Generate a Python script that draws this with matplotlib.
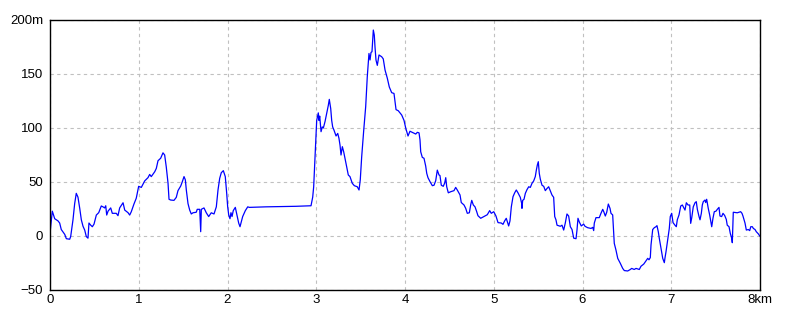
import matplotlib
matplotlib.use('Agg')
import matplotlib.pyplot as plt

# distance along the route (km) and elevation (m)
dist_km = [
    0.003, 0.026, 0.053, 0.090, 0.109, 0.127, 0.166, 0.184, 0.222, 0.233,
    0.259, 0.278, 0.296, 0.315, 0.335, 0.353, 0.372, 0.391, 0.409, 0.428,
    0.439, 0.459, 0.477, 0.496, 0.522, 0.549, 0.578, 0.597, 0.616, 0.628,
    0.639, 0.654, 0.684, 0.702, 0.747, 0.766, 0.785, 0.823, 0.842, 0.879,
    0.898, 0.916, 0.946, 0.972, 0.999, 1.029, 1.067, 1.104, 1.123, 1.141,
    1.180, 1.198, 1.217, 1.247, 1.273, 1.292, 1.310, 1.330, 1.341, 1.360,
    1.397, 1.423, 1.442, 1.473, 1.491, 1.510, 1.525, 1.536, 1.555, 1.574,
    1.592, 1.611, 1.648, 1.659, 1.687, 1.698, 1.705, 1.735, 1.761, 1.788,
    1.817, 1.848, 1.874, 1.893, 1.912, 1.930, 1.953, 1.975, 1.991, 2.002,
    2.014, 2.028, 2.039, 2.051, 2.065, 2.088, 2.107, 2.126, 2.141, 2.171,
    2.201, 2.228, 2.246, 2.434, 2.772, 2.941, 2.960, 2.971, 2.978, 2.989,
    2.997, 3.005, 3.023, 3.031, 3.039, 3.054, 3.068, 3.080, 3.099, 3.118,
    3.136, 3.147, 3.163, 3.174, 3.185, 3.200, 3.223, 3.242, 3.256, 3.268,
    3.279, 3.294, 3.309, 3.324, 3.343, 3.361, 3.380, 3.406, 3.429, 3.462,
    3.482, 3.496, 3.512, 3.535, 3.557, 3.575, 3.594, 3.606, 3.617, 3.628,
    3.643, 3.654, 3.662, 3.673, 3.688, 3.707, 3.737, 3.755, 3.775, 3.801,
    3.823, 3.850, 3.876, 3.899, 3.924, 3.963, 3.989, 4.008, 4.034, 4.056,
    4.121, 4.139, 4.158, 4.169, 4.177, 4.195, 4.214, 4.233, 4.245, 4.259,
    4.282, 4.308, 4.327, 4.346, 4.364, 4.383, 4.394, 4.409, 4.431, 4.447,
    4.459, 4.470, 4.488, 4.515, 4.552, 4.571, 4.589, 4.620, 4.634, 4.665,
    4.684, 4.702, 4.725, 4.740, 4.752, 4.770, 4.789, 4.808, 4.822, 4.853,
    4.890, 4.927, 4.954, 4.972, 5.000, 5.025, 5.048, 5.085, 5.104, 5.123,
    5.141, 5.157, 5.168, 5.183, 5.198, 5.217, 5.236, 5.254, 5.273, 5.299,
    5.315, 5.318, 5.326, 5.341, 5.356, 5.375, 5.394, 5.412, 5.431, 5.450,
    5.468, 5.480, 5.491, 5.502, 5.513, 5.525, 5.544, 5.563, 5.581, 5.600,
    5.619, 5.637, 5.656, 5.675, 5.687, 5.701, 5.713, 5.750, 5.769, 5.788,
    5.806, 5.825, 5.844, 5.863, 5.882, 5.901, 5.927, 5.938, 5.949, 5.964,
    5.986, 6.013, 6.028, 6.058, 6.096, 6.115, 6.126, 6.133, 6.152, 6.189,
    6.208, 6.228, 6.242, 6.257, 6.273, 6.291, 6.310, 6.321, 6.340, 6.358,
    6.377, 6.397, 6.426, 6.453, 6.471, 6.509, 6.539, 6.554, 6.583, 6.603,
    6.640, 6.659, 6.690, 6.715, 6.735, 6.749, 6.764, 6.772, 6.791, 6.809,
    6.828, 6.839, 6.854, 6.865, 6.884, 6.904, 6.922, 6.930, 6.941, 6.960,
    6.978, 6.989, 7.005, 7.020, 7.042, 7.057, 7.068, 7.087, 7.107, 7.125,
    7.144, 7.155, 7.170, 7.189, 7.208, 7.219, 7.231, 7.248, 7.268, 7.282,
    7.294, 7.313, 7.324, 7.339, 7.350, 7.361, 7.380, 7.388, 7.399, 7.417,
    7.433, 7.444, 7.456, 7.470, 7.485, 7.504, 7.519, 7.538, 7.549, 7.568,
    7.583, 7.602, 7.620, 7.631, 7.651, 7.665, 7.681, 7.688, 7.699, 7.744,
    7.782, 7.797, 7.808, 7.820, 7.831, 7.846, 7.868, 7.884, 7.896, 7.914,
    7.925, 7.944, 7.958, 7.981, 7.997,
]
elev_m = [
    5, 23, 16, 14, 12, 6, 1.5, -2.5, -3, -0.5,
    15, 30, 39.5, 36, 25.6, 15, 9, 5.5, -0.5, -2,
    12, 10, 8.6, 11, 19.4, 21.6, 27.8, 27, 26, 28,
    19.4, 23, 26, 21, 21, 18.8, 26, 30.8, 24, 21.6,
    19.4, 22.5, 29.6, 35, 46, 45, 51, 54, 57, 55,
    59.5, 62.6, 69.7, 72, 77, 75, 64, 48.8, 34, 33.3,
    33, 35.8, 42, 46.3, 50.3, 55, 52, 42.6, 30, 24,
    20.4, 21.5, 22, 24.7, 24.7, 4, 24.7, 26, 21.5, 18,
    21.5, 20.4, 27, 42.6, 53.4, 58.6, 60.5, 55, 39.5, 27,
    19.4, 16, 21.6, 18, 23.5, 26.5, 19.4, 12, 8.6, 18,
    23.5, 27, 26.5, 27, 27.5, 28, 36, 45.6, 58, 76.5,
    92, 107, 114, 107, 111, 96.6, 101, 100, 106, 113.6,
    121, 126.5, 118, 107, 101, 98, 92.6, 95, 90.4, 84,
    75, 82.7, 78, 72, 64, 56.5, 55, 48.8, 46.6, 45.6,
    42.6, 52, 73.4, 98, 119.7, 147.5, 169, 163, 170, 170.6,
    190.7, 186, 175, 163, 158, 167.6, 166, 164, 153.7, 146,
    138, 132.7, 132, 117, 116, 112, 107, 100, 92.6, 97,
    94.4, 96, 95.5, 89, 78, 72.8, 72, 64.8, 58, 54,
    50.3, 46.6, 47, 51.2, 61, 56.5, 56, 47, 46, 49,
    54, 45.6, 40, 41, 42, 45, 42.6, 38, 31, 28.7,
    25.6, 21, 21.5, 28.7, 33, 28.7, 27, 22.5, 18.8, 16.4,
    18, 19.7, 23.5, 21, 22.5, 18.5, 12.4, 12, 10.8, 14,
    16.4, 12, 9.3, 14, 27, 36.4, 40, 42.6, 40, 35.8,
    30, 25.6, 33, 34, 39.5, 43, 45.6, 45, 48.8, 51,
    55, 61, 65.7, 68.8, 58, 52.5, 47, 46, 42, 44,
    45.6, 42, 38, 35.8, 18, 15, 10, 9, 10, 5.5,
    12, 20.4, 18.5, 8.6, 6, -2, -2.5, 5.5, 16.4, 13,
    9.3, 11, 9, 7.7, 7, 8, 5, 12, 17, 17,
    21, 24.7, 22, 18.5, 22, 29.6, 25.6, 21, 19.5, -6.8,
    -13, -20.7, -25.3, -30, -32, -32.4, -31, -30, -31, -30,
    -31, -28, -26, -23, -20.7, -22, -20, -8.3, 6, 7.7,
    8.6, 9.6, 4, -2, -11.4, -20.7, -24.7, -20, -14.5, -3.7,
    7, 18, 21, 12.4, 10, 8.6, 15, 19.4, 27.8, 28.7,
    25.6, 24, 30.8, 28.7, 28.7, 11.7, 17, 27, 30.8, 31.8,
    24.7, 18, 15, 21, 28.7, 31.8, 33.3, 31, 34, 25.6,
    19.4, 14, 8.6, 16.4, 22.5, 23, 24.7, 26.5, 18.5, 18,
    21, 19, 15.4, 10, 8.6, 2.5, -2, -6.2, 22, 21.5,
    22.5, 21, 18.5, 15, 12, 5.5, 6, 5, 8.6, 8.6,
    7, 6, 4, 2, 0,
]

x_ticks = [0, 1, 2, 3, 4, 5, 6, 7, 8]
x_labels = ['0', '1', '2', '3', '4', '5', '6', '7', '8km']
y_ticks = [-50, 0, 50, 100, 150, 200]
y_labels = ['\u221250', '0', '50', '100', '150', '200m']

plt.rcParams['font.family'] = ['Liberation Sans Narrow', 'Liberation Sans', 'DejaVu Sans']

fig = plt.figure(figsize=(8, 3.2), dpi=100)
ax = fig.add_axes([0.0625, 0.09375, 0.8875, 0.84375])

ax.plot(dist_km, elev_m, color='#0000ff', linewidth=0.9)

ax.set_xlim(0, 8)
ax.set_ylim(-50, 200)
ax.set_xticks(x_ticks)
ax.set_xticklabels(x_labels)
ax.set_yticks(y_ticks)
ax.set_yticklabels(y_labels)
ax.tick_params(axis='both', length=0, labelsize=9.5, colors='black')
ax.tick_params(axis='x', pad=3)
ax.tick_params(axis='y', pad=5)

ax.grid(True, color='#c0c0c0', linestyle=(0, (3, 3)), linewidth=0.8)
for s in ax.spines.values():
    s.set_color('black')
    s.set_linewidth(1.0)

fig.savefig('out.png', dpi=100)
